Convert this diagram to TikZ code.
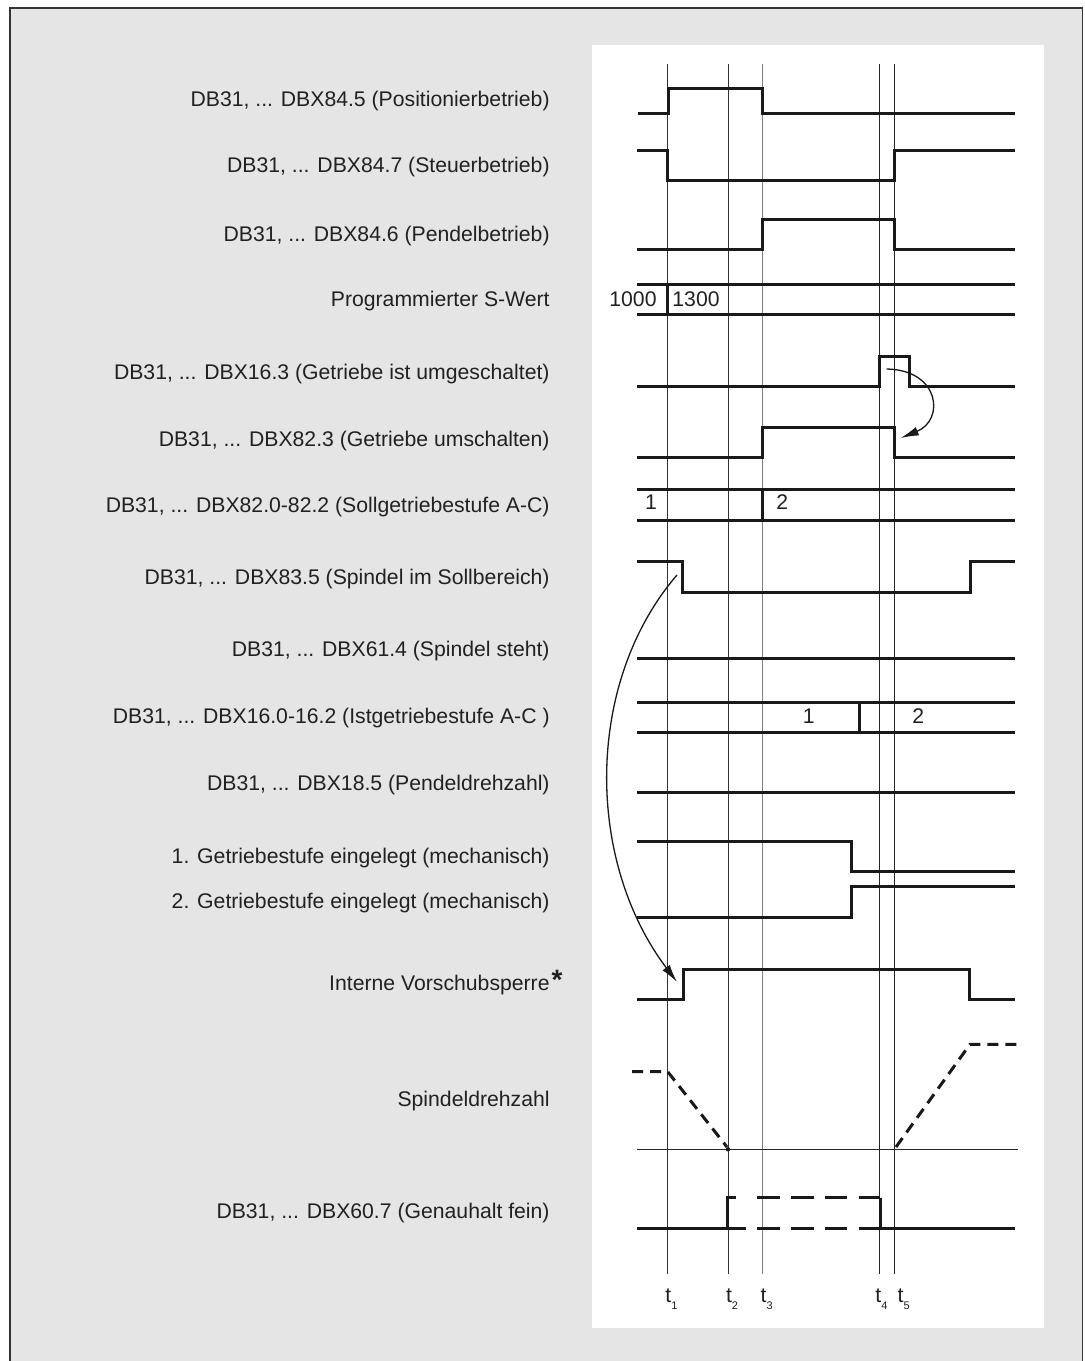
\documentclass[tikz,border=0pt]{standalone}
\usepackage{fontspec}
\setmainfont{Liberation Sans}
\usetikzlibrary{arrows.meta}

\begin{document}
\begin{tikzpicture}[x=0.5pt,y=-0.5pt,
  sig/.style={draw=black!90,line width=1.5pt},
  tline/.style={draw=black!80,line width=0.5pt},
  dsig/.style={draw=black!90,line width=1.5pt,dash pattern=on 11.3pt off 5.65pt},
  spd/.style={draw=black!90,line width=1.5pt,dash pattern=on 5.5pt off 3.5pt},
  lbl/.style={font=\fontsize{10.6}{12}\selectfont,text=black!87,anchor=base east,inner sep=0pt},
  val/.style={font=\fontsize{10.6}{12}\selectfont,text=black!87,anchor=base,inner sep=0pt},
  arr/.style={draw=black!90,line width=0.65pt,-{Latex[length=9pt,width=4.5pt]}},
]

\useasboundingbox (0,0) rectangle (1084,1361);
\draw[draw=black!80,fill=black!10,line width=0.6pt] (10,8) rectangle (1082.5,1372);
\fill[white] (592,45) rectangle (1044,1328);

% time marks
\foreach \x/\c in {667.7/black!80,728.3/black!80,762/black!50,879.3/black!85,894.3/black!85}
  \draw[tline,draw=\c] (\x,64) -- (\x,1274);
\foreach \x/\n in {665/1,725.7/2,760.3/3,875/4,897.3/5}
  \node[lbl,anchor=base west] (t\n) at (\x,1302.7)
    {t\raisebox{-3.5pt}{\fontsize{5.5}{6}\selectfont\n}};

% signal names
\foreach \y/\txt [count=\i] in {
  106.7/{DB31, ... DBX84.5 (Positionierbetrieb)},
  172/{DB31, ... DBX84.7 (Steuerbetrieb)},
  241/{DB31, ... DBX84.6 (Pendelbetrieb)},
  306.7/{Programmierter S-Wert},
  379/{DB31, ... DBX16.3 (Getriebe ist umgeschaltet)},
  446/{DB31, ... DBX82.3 (Getriebe umschalten)},
  512/{DB31, ... DBX82.0-82.2 (Sollgetriebestufe A-C)},
  584/{DB31, ... DBX83.5 (Spindel im Sollbereich)},
  656/{DB31, ... DBX61.4 (Spindel steht)},
  723/{DB31, ... DBX16.0-16.2 (Istgetriebestufe A-C )},
  790/{DB31, ... DBX18.5 (Pendeldrehzahl)},
  863/{1. Getriebestufe eingelegt (mechanisch)},
  908/{2. Getriebestufe eingelegt (mechanisch)},
  1106/{Spindeldrehzahl},
  1218/{DB31, ... DBX60.7 (Genauhalt fein)}}
  \node[lbl] (l\i) at (550,\y) {\txt};
\node[lbl] (sperre) at (550,990)
  {Interne Vorschubsperre\rlap{\hspace{1pt}\raisebox{0.5pt}{\fontsize{14}{14}\selectfont\bfseries *}}};

% signals
\draw[sig] (638,113.7) -- (668,113.7) -- (668,88.3) -- (762,88.3) -- (762,113.7) -- (1015,113.7);
\draw[sig] (637,150.3) -- (667.7,150.3) -- (667.7,180.3) -- (894.3,180.3) -- (894.3,150.3) -- (1015,150.3);
\draw[sig] (637,249.7) -- (762,249.7) -- (762,219.7) -- (894.3,219.7) -- (894.3,249.7) -- (1015,249.7);

\draw[sig] (637,284.3) -- (1015,284.3) (637,314.3) -- (1015,314.3) (667.7,284.3) -- (667.7,314.3);
\node[val] (s1) at (633,306.7) {1000};
\node[val] (s2) at (696,306.7) {1300};

\draw[sig] (637,386.7) -- (879.3,386.7) -- (879.3,356) -- (909.3,356) -- (909.3,386.7) -- (1015,386.7);
\draw[sig] (637,457.3) -- (762,457.3) -- (762,427.7) -- (894.3,427.7) -- (894.3,457.3) -- (1015,457.3);

\draw[sig] (637,489.7) -- (1015,489.7) (637,520) -- (1015,520) (762,489.7) -- (762,520);
\node[val] (g1) at (651,509.3) {1};
\node[val] (g2) at (782.3,509.3) {2};

\draw[sig] (637,561.7) -- (682.7,561.7) -- (682.7,592.3) -- (970,592.3) -- (970,561.7) -- (1015,561.7);
\draw[sig] (637,658.3) -- (1015,658.3);

\draw[sig] (637,702.3) -- (1015,702.3) (637,732.3) -- (1015,732.3) (859,702.3) -- (859,732.3);
\node[val] (i1) at (808.7,723.3) {1};
\node[val] (i2) at (918.3,723.3) {2};

\draw[sig] (637,792.3) -- (1015,792.3);
\draw[sig] (637,841.3) -- (851.3,841.3) -- (851.3,871.7) -- (1015,871.7);
\draw[sig] (637,917) -- (851.3,917) -- (851.3,886.7) -- (1015,886.7);
\draw[sig] (637,999.3) -- (683.3,999.3) -- (683.3,969.3) -- (969.3,969.3) -- (969.3,999.3) -- (1015,999.3);

% spindle speed
\draw[draw=black!85,line width=0.65pt] (637,1149.5) -- (1017.7,1149.5);
\draw[spd] (632,1071.7) -- (667.7,1071.7) -- (727,1147);
\fill[black!90] (728,1149.3) circle (2.2);
\draw[spd] (896,1147) -- (970,1044.3) -- (1022,1044.3);

% exact stop fine
\draw[sig] (637,1228.3) -- (745.7,1228.3);
\draw[sig] (727.5,1228.3) -- (727.5,1197.7) -- (736,1197.7);
\draw[dsig] (757,1197.7) -- (880,1197.7);
\draw[dsig] (757,1228.3) -- (880,1228.3);
\draw[sig] (880,1197.7) -- (880,1228.3) -- (1015,1228.3);

% arrows
\coordinate (a1) at (677,575);
\coordinate (b1) at (677,982);
\draw[arr] (a1) .. controls (585,682) and (585,860) .. (b1);
\coordinate (a2) at (886.7,369);
\coordinate (b2) at (900.7,438);
\draw[arr] (a2) .. controls (940,370) and (945,420) .. (b2);

\end{tikzpicture}
\end{document}
